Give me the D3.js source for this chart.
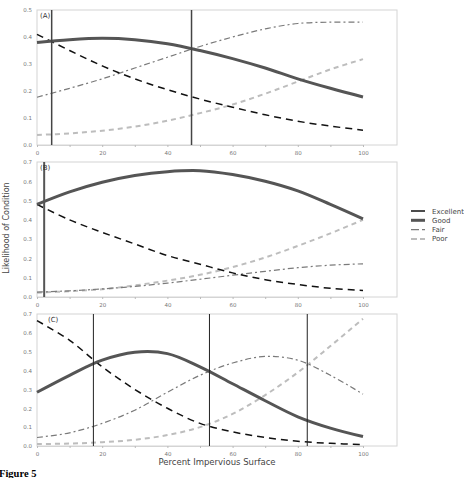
<!DOCTYPE html>
<html>
<head>
<meta charset="utf-8">
<script src="https://cdn.jsdelivr.net/npm/d3@7"></script>
<style>
  body { margin: 0; background: #fff; }
  svg { display: block; }
</style>
</head>
<body>
<svg id="svg" width="464" height="478"></svg>
<script>
const xs = [0, 10, 20, 30, 40, 50, 60, 70, 80, 90, 100]
const conditions = ['Excellent', 'Good', 'Fair', 'Poor']
const xTicks = [0, 20, 40, 60, 80, 100]

// panel A
const excellentA = [0.41, 0.35, 0.293, 0.245, 0.205, 0.17, 0.14, 0.112, 0.088, 0.07, 0.055]
const goodA = [0.38, 0.39, 0.395, 0.39, 0.375, 0.35, 0.32, 0.285, 0.245, 0.21, 0.178]
const fairA = [0.177, 0.21, 0.245, 0.285, 0.325, 0.365, 0.4, 0.43, 0.45, 0.455, 0.455]
const poorA = [0.037, 0.043, 0.053, 0.068, 0.09, 0.118, 0.15, 0.19, 0.235, 0.28, 0.318]
const cutsA = [4.5, 47.4]

// panel B
const excellentB = [0.48, 0.4, 0.335, 0.275, 0.215, 0.17, 0.125, 0.09, 0.065, 0.045, 0.034]
const goodB = [0.48, 0.545, 0.595, 0.63, 0.65, 0.655, 0.635, 0.6, 0.55, 0.48, 0.405]
const fairB = [0.025, 0.032, 0.042, 0.055, 0.072, 0.092, 0.113, 0.133, 0.152, 0.165, 0.172]
const poorB = [0.022, 0.03, 0.04, 0.06, 0.085, 0.115, 0.155, 0.205, 0.265, 0.33, 0.4]
const cutsB = [2.2]

// panel C
const excellentC = [0.665, 0.56, 0.42, 0.3, 0.2, 0.12, 0.075, 0.045, 0.025, 0.014, 0.008]
const goodC = [0.285, 0.375, 0.455, 0.497, 0.49, 0.42, 0.33, 0.24, 0.155, 0.095, 0.05]
const fairC = [0.045, 0.07, 0.12, 0.19, 0.285, 0.375, 0.44, 0.475, 0.455, 0.375, 0.275]
const poorC = [0.01, 0.013, 0.02, 0.033, 0.058, 0.1, 0.17, 0.27, 0.39, 0.53, 0.675]
const cutsC = [17.3, 52.9, 82.9]

const styles = {
  Excellent: { stroke: '#111', width: 1.5, dash: '7,5', legendDash: null },
  Good: { stroke: '#555', width: 3, dash: null, legendDash: null },
  Fair: { stroke: '#7a7a7a', width: 1.2, dash: '6,3,2,3', legendDash: '8,3,3,3' },
  Poor: { stroke: '#bdbdbd', width: 2, dash: '5,4', legendDash: '6,3' }
}

const panels = [
  { label: '(A)', top: 10, bottom: 145, yMax: 0.5, series: [excellentA, goodA, fairA, poorA], cuts: cutsA, cutColor: '#444', cutWidth: 1.5, labelX: 40 },
  { label: '(B)', top: 162, bottom: 297, yMax: 0.7, series: [excellentB, goodB, fairB, poorB], cuts: cutsB, cutColor: '#555', cutWidth: 2, labelX: 40 },
  { label: '(C)', top: 314, bottom: 446, yMax: 0.7, series: [excellentC, goodC, fairC, poorC], cuts: cutsC, cutColor: '#222', cutWidth: 1, labelX: 48 }
]

const svg = d3.select('#svg')
const font = 'DejaVu Sans, sans-serif'

const x = d3.scaleLinear().domain([0, 100]).range([37, 363])
const frameRight = 397

panels.forEach(p => {
  const y = d3.scaleLinear().domain([0, p.yMax]).range([p.bottom, p.top])
  const g = svg.append('g')

  g.append('rect')
    .attr('x', 37).attr('y', p.top)
    .attr('width', frameRight - 37).attr('height', p.bottom - p.top)
    .attr('fill', 'none').attr('stroke', '#d4d4d4').attr('stroke-width', 1)

  const xAxis = g.append('g')
    .attr('transform', `translate(0, ${p.bottom})`)
    .call(d3.axisBottom(x).tickValues(d3.range(0, 101, 10)).tickSize(2).tickFormat(d => xTicks.includes(d) ? d : ''))
  xAxis.select('.domain').attr('stroke', '#d4d4d4')
  xAxis.selectAll('line').attr('stroke', '#bbb')
  xAxis.selectAll('text').attr('font-size', 5.5).attr('fill', '#777').attr('font-family', font).attr('dy', '0.9em')

  const yAxis = g.append('g')
    .attr('transform', 'translate(37, 0)')
    .call(d3.axisLeft(y).ticks(p.yMax * 10).tickSize(0).tickFormat(d3.format('.1f')))
  yAxis.select('.domain').remove()
  yAxis.selectAll('text').attr('font-size', 5.5).attr('fill', '#777').attr('font-family', font).attr('x', -5)

  const line = d3.line()
    .x((d, i) => x(xs[i]))
    .y(d => y(d))
    .curve(d3.curveCatmullRom.alpha(0.5))

  // draw order: poor, fair, excellent, good
  const order = [3, 2, 0, 1]
  order.forEach(k => {
    const s = styles[conditions[k]]
    g.append('path')
      .datum(p.series[k])
      .attr('d', line)
      .attr('fill', 'none')
      .attr('stroke', s.stroke)
      .attr('stroke-width', s.width)
      .attr('stroke-dasharray', s.dash)
  })

  g.selectAll('.cut')
    .data(p.cuts)
    .join('line')
    .attr('x1', d => x(d)).attr('x2', d => x(d))
    .attr('y1', p.top).attr('y2', p.bottom)
    .attr('stroke', p.cutColor)
    .attr('stroke-width', p.cutWidth)

  g.append('text')
    .text(p.label)
    .attr('x', p.labelX).attr('y', p.top + 8)
    .attr('font-size', 7).attr('fill', '#333').attr('font-family', font)
})

// legend
const legend = svg.append('g')
conditions.forEach((c, i) => {
  const s = styles[c]
  const ly = 211 + i * 9.3
  legend.append('line')
    .attr('x1', 411).attr('x2', 425)
    .attr('y1', ly).attr('y2', ly)
    .attr('stroke', s.stroke)
    .attr('stroke-width', s.width)
    .attr('stroke-dasharray', s.legendDash)
  legend.append('text')
    .text(c)
    .attr('x', 432).attr('y', ly + 2.5)
    .attr('font-size', 7).attr('fill', '#444').attr('font-family', font)
})

svg.append('text')
  .text('Likelihood of Condition')
  .attr('transform', 'translate(9, 228) rotate(-90)')
  .attr('text-anchor', 'middle')
  .attr('font-size', 8).attr('fill', '#444').attr('font-family', font)

svg.append('text')
  .text('Percent Impervious Surface')
  .attr('x', 217).attr('y', 465)
  .attr('text-anchor', 'middle')
  .attr('font-size', 8.5).attr('fill', '#444').attr('font-family', font)

svg.append('text')
  .text('Figure 5')
  .attr('x', -1).attr('y', 477)
  .attr('font-size', 10.5).attr('font-weight', 'bold').attr('fill', '#000')
  .attr('font-family', 'Liberation Serif, serif')
</script>
</body>
</html>
